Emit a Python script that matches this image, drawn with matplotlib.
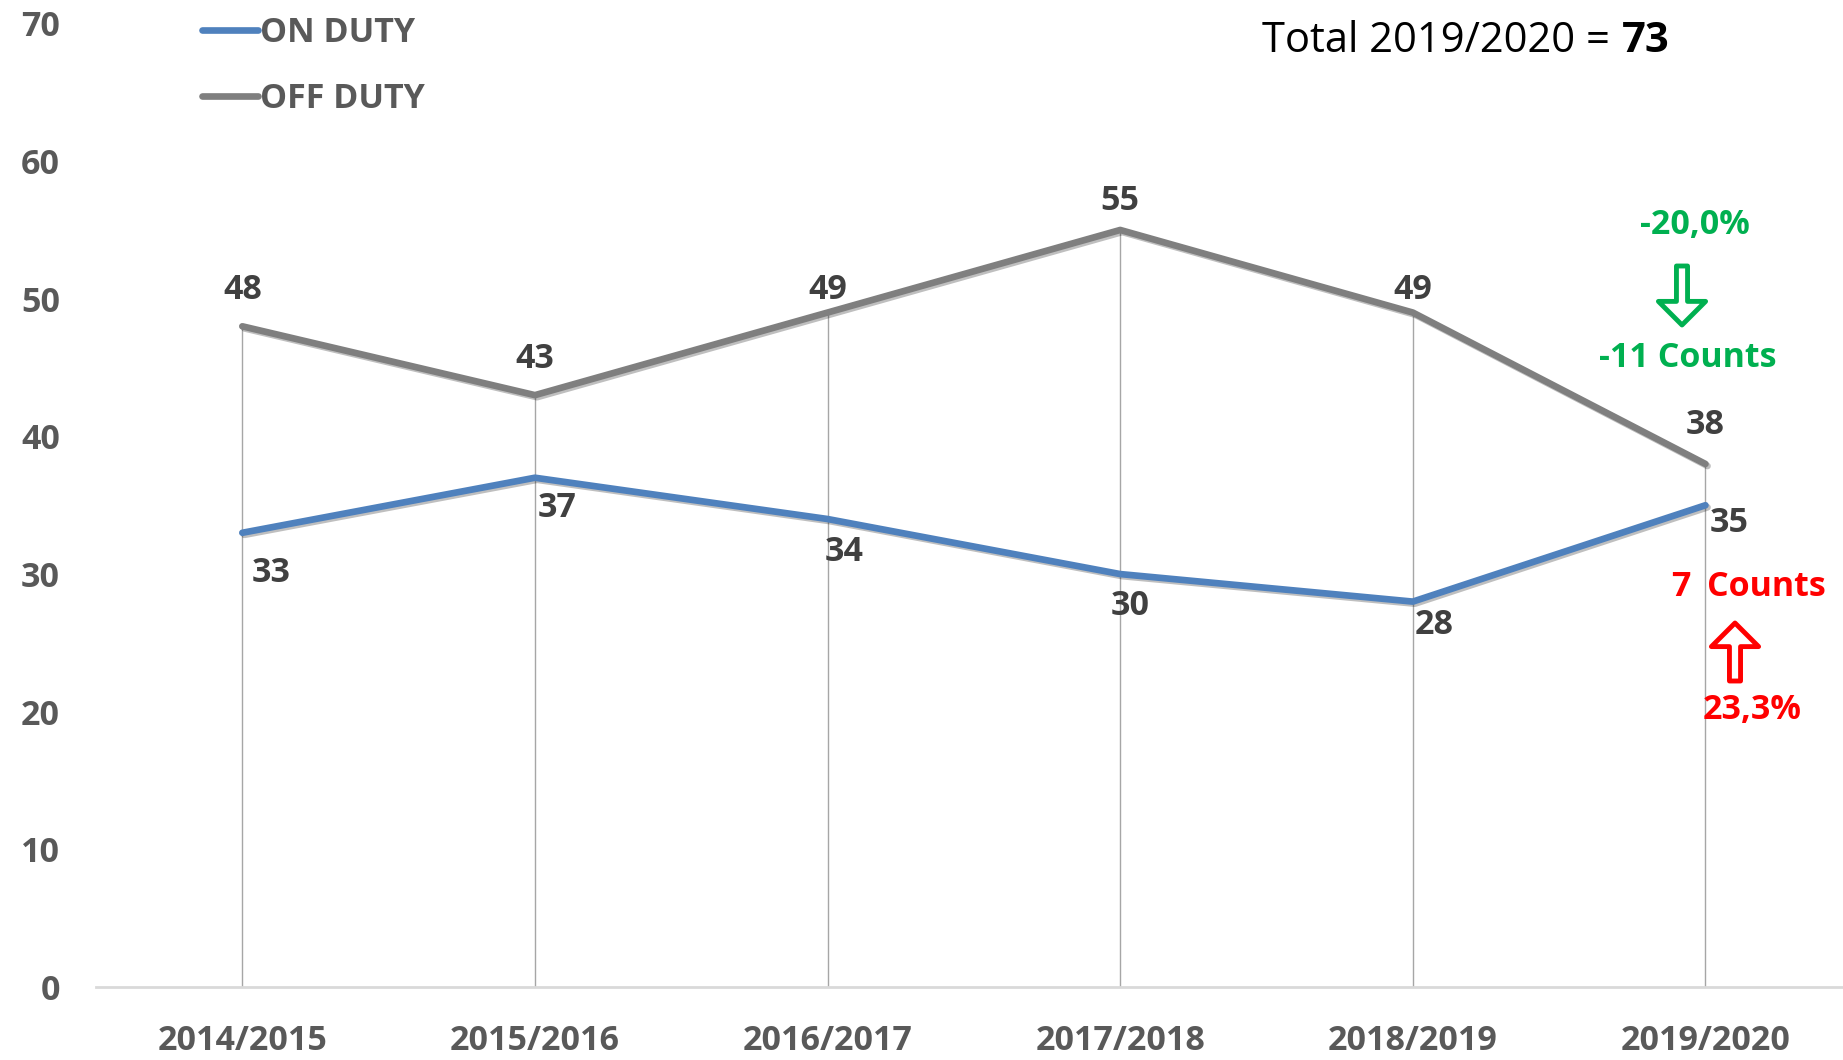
import matplotlib
matplotlib.use("Agg")
import matplotlib.pyplot as plt
import matplotlib.patheffects as pe
from matplotlib.patches import FancyArrowPatch

# data
seasons = ["2014/2015", "2015/2016", "2016/2017", "2017/2018", "2018/2019", "2019/2020"]
on_duty = [33, 37, 34, 30, 28, 35]
off_duty = [48, 43, 49, 55, 49, 38]
total_label = "73"

BLUE = "#4F81BD"
GRAY = "#7F7F7F"
TXT = "#595959"
GREEN = "#00B050"
RED = "#FF0000"
FS = 24.5

plt.rcParams["font.family"] = ["Open Sans", "DejaVu Sans"]

W, H = 1843, 1060
fig = plt.figure(figsize=(W / 100, H / 100), dpi=100)
ax = fig.add_axes([96 / W, 1 - 987 / H, 1 - 96 / W, (987 - 23.5) / H])

x = list(range(len(seasons)))

# drop lines
ax.vlines(x, 0, [max(a, b) for a, b in zip(on_duty, off_duty)],
          color="#A6A6A6", lw=1, zorder=1)

shadow = [pe.SimpleLineShadow(offset=(1.5, -1.5), alpha=0.25, shadow_color="black"), pe.Normal()]
ax.plot(x, on_duty, color=BLUE, lw=4.8, label="ON DUTY", zorder=3,
        solid_capstyle="round", path_effects=shadow)
ax.plot(x, off_duty, color=GRAY, lw=4.8, label="OFF DUTY", zorder=3,
        solid_capstyle="round", path_effects=shadow)

# data labels
off_offsets = [(0, 26), (0, 26), (0, 16), (0, 21), (0, 16), (0, 28)]
for xi, v, off in zip(x, off_duty, off_offsets):
    ax.annotate(str(v), (xi, v), xytext=off, textcoords="offset points",
                ha="center", va="center", fontsize=FS, fontweight="bold", color="#404040")
on_offsets = [(21, -29), (16, -22), (12, -24), (7, -23), (15, -17), (17, -13)]
for xi, v, off in zip(x, on_duty, on_offsets):
    ax.annotate(str(v), (xi, v), xytext=off, textcoords="offset points",
                ha="center", va="center", fontsize=FS, fontweight="bold", color="#404040")

ax.set_xlim(-0.5, 5.47)
ax.set_ylim(0, 70)
ax.set_yticks(range(0, 71, 10))
ax.set_xticks(x)
ax.set_xticklabels(seasons)
for s in ["left", "right", "top"]:
    ax.spines[s].set_visible(False)
ax.spines["bottom"].set_color("#D9D9D9")
ax.spines["bottom"].set_linewidth(2)
ax.tick_params(axis="both", length=0, labelsize=FS, labelcolor=TXT)
ax.tick_params(axis="y", pad=26)
ax.tick_params(axis="x", pad=27)
for lab in ax.get_xticklabels() + ax.get_yticklabels():
    lab.set_fontweight("bold")

leg = ax.legend(loc="upper left", bbox_to_anchor=(202 / W, 1 - 16 / H),
                bbox_transform=fig.transFigure, frameon=False, fontsize=FS,
                handlelength=1.65, handletextpad=0.05, labelspacing=0.95,
                borderpad=0, borderaxespad=0)
for t in leg.get_texts():
    t.set_color(TXT)
    t.set_fontweight("bold")
for h in leg.get_lines():
    h.set_path_effects([])

# total text
t1 = fig.text(1262 / W, 1 - 41 / H, "Total 2019/2020 =", fontsize=30, color="black",
              ha="left", va="center")
fig.canvas.draw()
bb = t1.get_window_extent()
fig.text((bb.x1 + 12) / W, 1 - 41 / H, total_label, fontsize=30, color="black",
         fontweight="bold", ha="left", va="center")

# change annotations
fig.text(1695 / W, 1 - 225 / H, "-20,0%", fontsize=FS, fontweight="bold",
         color=GREEN, ha="center", va="center")
fig.text(1688 / W, 1 - 358 / H, "-11 Counts", fontsize=FS, fontweight="bold",
         color=GREEN, ha="center", va="center")
fig.text(1681 / W, 1 - 587 / H, "7", fontsize=FS, fontweight="bold",
         color=RED, ha="center", va="center")
fig.text(1766 / W, 1 - 587 / H, "Counts", fontsize=FS, fontweight="bold",
         color=RED, ha="center", va="center")
fig.text(1752 / W, 1 - 710 / H, "23,3%", fontsize=FS, fontweight="bold",
         color=RED, ha="center", va="center")

style = "simple,head_length=17,head_width=34,tail_width=8"
fig.add_artist(FancyArrowPatch(
    (1682 / W, 1 - 266 / H), (1682 / W, 1 - 325 / H), transform=fig.transFigure,
    arrowstyle=style, mutation_scale=1, fc="white", ec=GREEN, lw=3.5,
    shrinkA=0, shrinkB=0))
fig.add_artist(FancyArrowPatch(
    (1735 / W, 1 - 681 / H), (1735 / W, 1 - 623 / H), transform=fig.transFigure,
    arrowstyle=style, mutation_scale=1, fc="white", ec=RED, lw=3.5,
    shrinkA=0, shrinkB=0))

fig.savefig("out.png", dpi=100)
